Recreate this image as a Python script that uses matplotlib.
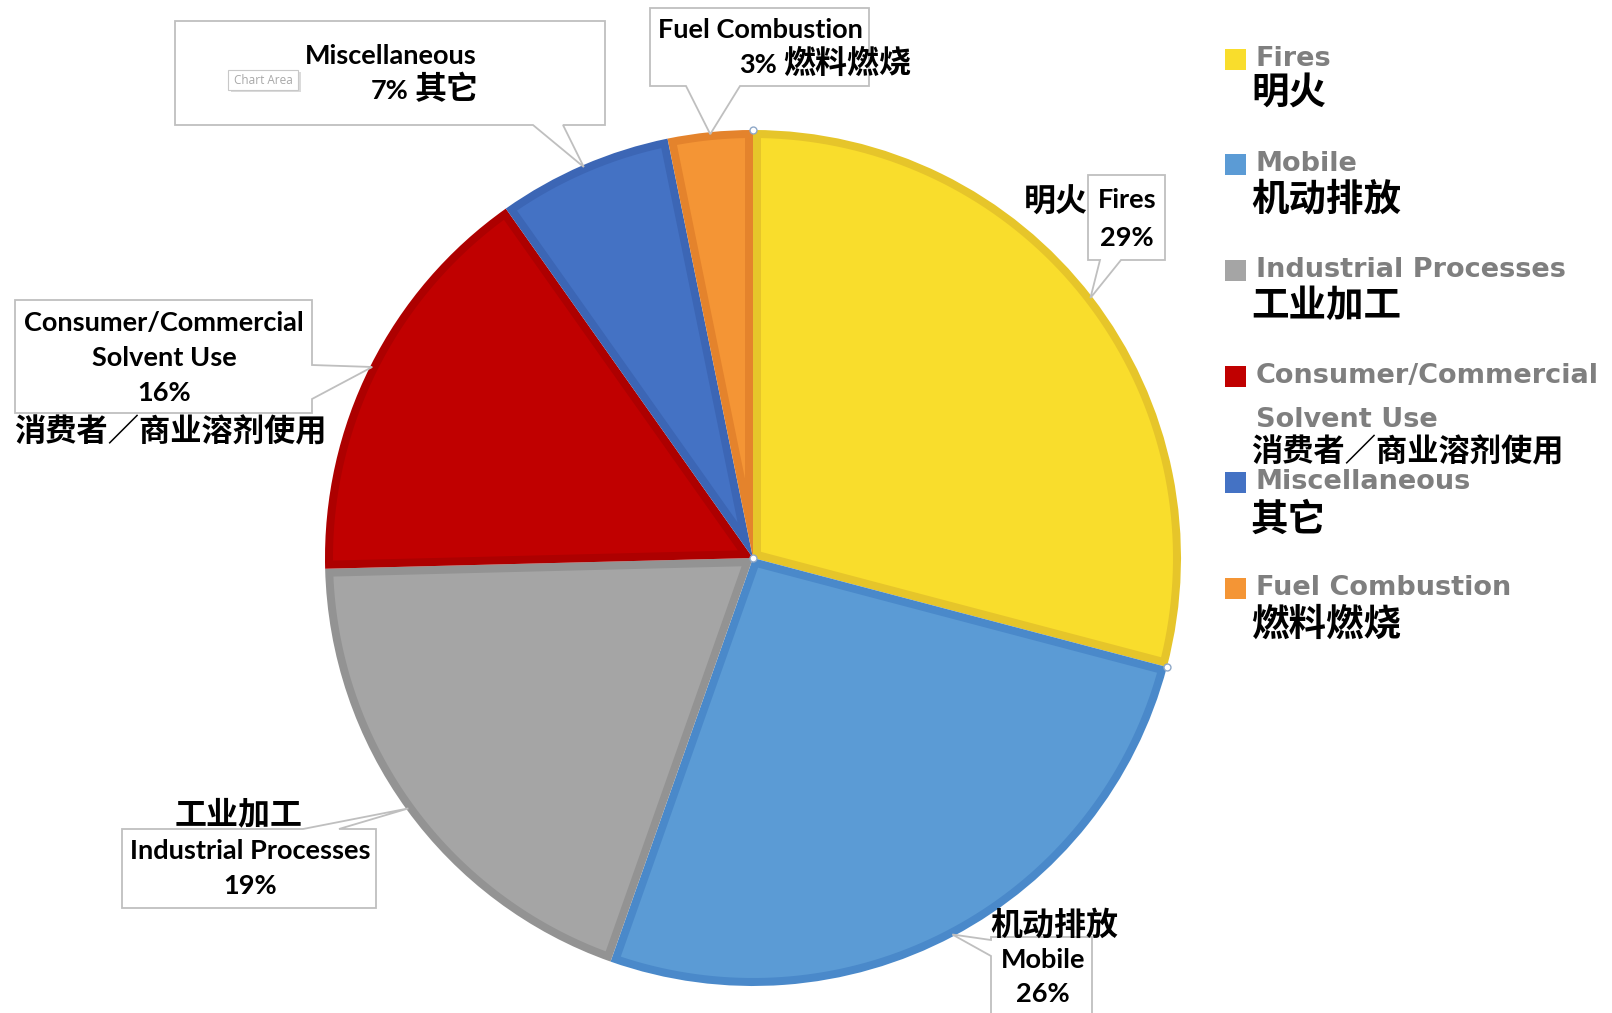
import matplotlib
matplotlib.use("Agg")
import matplotlib.pyplot as plt
from matplotlib.patches import Polygon, Rectangle
import numpy as np

# data
names_en = ["Fires", "Mobile", "Industrial Processes", "Consumer/Commercial\nSolvent Use",
            "Miscellaneous", "Fuel Combustion"]
names_cn = ["明火", "机动排放", "工业加工", "消费者／商业溶剂使用", "其它", "燃料燃烧"]
shares = [29.1, 26.3, 19.2, 15.6, 6.6, 3.2]      # wedge sizes as drawn
pct_labels = ["29%", "26%", "19%", "16%", "7%", "3%"]
colors = ["#F9DD2C", "#5B9BD5", "#A5A5A5", "#C00000", "#4472C4", "#F49535"]
edges = ["#E6C52A", "#4A89CA", "#939393", "#AD0000", "#3C66B5", "#E4832C"]

W, H = 1612, 1013
CX, CY, R = 753, 558, 428
B = 8  # inner border width (px)

EN = ["Lato", "Noto Sans CJK SC", "DejaVu Sans"]
CN = ["Noto Sans CJK SC", "DejaVu Sans"]

fig = plt.figure(figsize=(W / 100, H / 100), dpi=100)
ax = fig.add_axes([0, 0, 1, 1])

# y axis is inverted, so counterclock in data = clockwise on screen
wedges, _ = ax.pie(shares, colors=edges, startangle=-90, counterclock=True,
                   center=(CX, CY), radius=R, frame=True,
                   wedgeprops=dict(linewidth=0))
ax.set_xlim(0, W)
ax.set_ylim(H, 0)
ax.set_aspect("equal")
ax.axis("off")

# lighter inner fill, leaving a darker border inside each slice
for w, fc in zip(wedges, colors):
    a1, a2 = np.deg2rad(w.theta1), np.deg2rad(w.theta2)
    h = (a2 - a1) / 2
    d = B / np.sin(h)
    apex = (CX + d * np.cos(a1 + h), CY + d * np.sin(a1 + h))
    ri = R - B
    dl = np.arctan(B / np.sqrt(ri ** 2 - B ** 2))
    arc = np.linspace(a1 + dl, a2 - dl, 80)
    pts = [apex] + [(CX + ri * np.cos(t), CY + ri * np.sin(t)) for t in arc]
    ax.add_patch(Polygon(pts, closed=True, facecolor=fc, edgecolor="none", zorder=2))


def anchor(i, rr=R):
    w = wedges[i]
    a = np.deg2rad((w.theta1 + w.theta2) / 2)
    return CX + rr * np.cos(a), CY + rr * np.sin(a)


def callout(rect, side, base, tip):
    x0, y0, x1, y1 = rect
    if side == "bottom":
        pts = [(x0, y0), (x1, y0), (x1, y1), (base[1], y1), tip, (base[0], y1), (x0, y1)]
    elif side == "top":
        pts = [(x0, y0), (base[0], y0), tip, (base[1], y0), (x1, y0), (x1, y1), (x0, y1)]
    elif side == "right":
        pts = [(x0, y0), (x1, y0), (x1, base[0]), tip, (x1, base[1]), (x1, y1), (x0, y1)]
    else:
        pts = [(x0, y0), (x1, y0), (x1, y1), (x0, y1), (x0, base[1]), tip, (x0, base[0])]
    ax.add_patch(Polygon(pts, closed=True, facecolor="white", edgecolor="#BFBFBF",
                         linewidth=1.3, zorder=5))


def txt(x, y, s, size, fam=EN, color="black", ha="center"):
    ax.text(x, y, s, fontsize=size, family=fam, fontweight="bold", color=color,
            ha=ha, va="center", zorder=6)


box = 19.5
cjk = 23

# Fires
callout((1088, 175, 1165, 260), "bottom", (1100, 1121), anchor(0, R - 2))
txt(1127, 200, names_en[0], box)
txt(1127, 238, pct_labels[0], box)
txt(1056, 203, names_cn[0], cjk, CN)

# Mobile
callout((991, 937, 1092, 1030), "left", (940, 956), anchor(1, R - 2))
txt(1054, 926, names_cn[1], cjk, CN)
txt(1043, 960, names_en[1], box)
txt(1043, 994, pct_labels[1], box)

# Industrial Processes
callout((122, 829, 376, 908), "top", (303, 339), anchor(2, R - 2))
txt(239, 815, names_cn[2], cjk, CN)
txt(250, 851, names_en[2], box)
txt(250, 886, pct_labels[2], box)

# Consumer / Commercial
callout((15, 300, 312, 413), "right", (365, 399), anchor(3, R - 2))
for k, line in enumerate(names_en[3].split("\n") + [pct_labels[3]]):
    txt(164, 323 + 35 * k, line, box)
txt(170, 432, names_cn[3], 22.5, CN)

# Miscellaneous
callout((175, 21, 605, 125), "bottom", (533, 563), anchor(4, R - 2))
txt(391, 56, names_en[4], box)
txt(408, 91, pct_labels[4], box, ha="right")
txt(415, 90, names_cn[4], cjk, CN, ha="left")
ax.add_patch(Rectangle((231, 72), 70, 20, facecolor="#9A9A9A", edgecolor="none",
                       alpha=0.35, zorder=6))
ax.add_patch(Rectangle((228, 70), 70, 20, facecolor="white", edgecolor="#C8C8C8",
                       linewidth=0.8, zorder=7))
ax.text(263, 80, "Chart Area", fontsize=8.5, family=["Open Sans", "DejaVu Sans"],
        color="#A8A8A8", ha="center", va="center", zorder=8)

# Fuel Combustion
callout((650, 8, 869, 86), "bottom", (686, 740), anchor(5, R - 2))
txt(760, 30, names_en[5], box)
txt(777, 65, pct_labels[5], box, ha="right")
txt(783, 64, names_cn[5], cjk, CN, ha="left")

# selection handles
t2 = np.deg2rad(wedges[0].theta2)
for px, py in [(CX, CY - R), (CX + R * np.cos(t2), CY + R * np.sin(t2)), (CX, CY)]:
    ax.plot(px, py, "o", ms=5, mfc="white", mec="#8FA8C8", mew=1, zorder=8)

# legend
leg_y = [(59, 92), (164, 199), (270, 305), (376, 452), (482, 519), (588, 624)]
leg_en = ["Fires", "Mobile", "Industrial Processes", "Consumer/Commercial",
          "Miscellaneous", "Fuel Combustion"]
for i, (ye, yc) in enumerate(leg_y):
    ax.add_patch(Rectangle((1225, ye - 10), 21, 21, facecolor=colors[i],
                           edgecolor="none", zorder=6))
    txt(1256, ye, leg_en[i], 19.5, ["DejaVu Sans"], "#7F7F7F", "left")
    txt(1251, yc, names_cn[i], 22.5 if i == 3 else 27, CN, "black", "left")
txt(1256, 420, "Solvent Use", 19.5, ["DejaVu Sans"], "#7F7F7F", "left")

fig.savefig("out.png", dpi=100)
